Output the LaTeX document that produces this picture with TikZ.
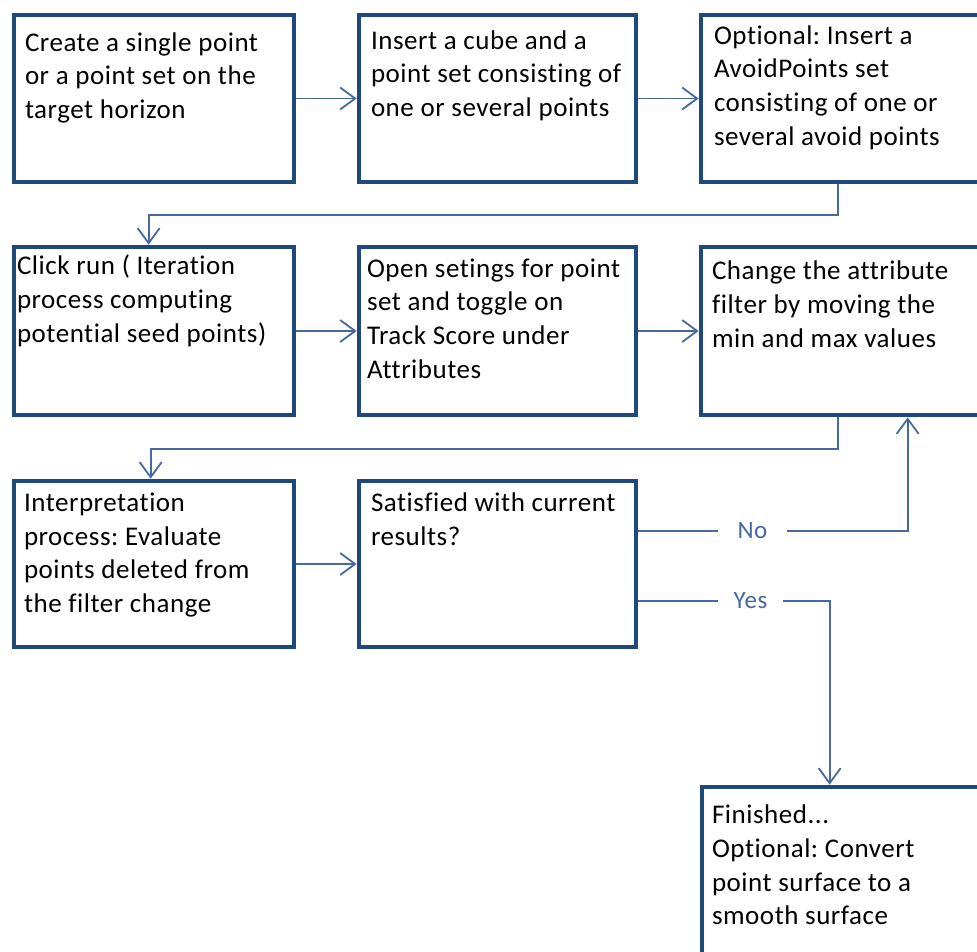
\documentclass[tikz,border=0pt]{standalone}
\usepackage{fontspec}
\setmainfont{Carlito}[LetterSpace=2.0, Ligatures=NoCommon]
\usetikzlibrary{arrows.meta}
\definecolor{boxline}{HTML}{1F487C}
\definecolor{flow}{HTML}{4669A0}
\tikzset{
  stepbox/.style={draw=boxline, line width=4.7pt, fill=white, rectangle, inner sep=0pt},
  txt/.style={anchor=north west, inner sep=0pt, outer sep=0pt, align=left, text=black,
    font=\fontsize{27}{33.7}\selectfont\frenchspacing, execute at begin node=\strut},
  conn/.style={draw=flow, line width=1.8pt,
    -{Straight Barb[length=15pt, width=22pt, line width=1.8pt]}},
  plain/.style={draw=flow, line width=1.8pt},
  answer/.style={inner sep=0pt, outer sep=0pt, text=flow,
    font=\fontsize{25}{30}\selectfont}
}
\begin{document}
\begin{tikzpicture}[x=1pt, y=-1pt]
  \useasboundingbox (0,0) rectangle (977,951);
  \fill[white] (0,0) rectangle (977,951);
  \clip (0,0) rectangle (977,951);

  % process boxes
  \node[stepbox, minimum width=280pt, minimum height=167pt] (b1) at (154,98.5) {};
  \node[stepbox, minimum width=277pt, minimum height=167pt] (b2) at (497.5,98.5) {};
  \node[stepbox, minimum width=299pt, minimum height=167pt] (b3) at (850.5,98.5) {};
  \node[stepbox, minimum width=280pt, minimum height=168pt] (b4) at (154,331) {};
  \node[stepbox, minimum width=277pt, minimum height=168pt] (b5) at (497.5,331) {};
  \node[stepbox, minimum width=299pt, minimum height=168pt] (b6) at (850.5,331) {};
  \node[stepbox, minimum width=280pt, minimum height=166pt] (b7) at (154,564) {};
  \node[stepbox, minimum width=277pt, minimum height=166pt] (b8) at (497.5,564) {};
  \node[stepbox, minimum width=298pt, minimum height=213pt] (b9) at (851,893.5) {};

  % box texts
  \node[txt] (t1) at (25,32.5) {Create a single point\\or a point set on the\\target horizon};
  \node[txt] (t2) at (371,30.5) {Insert a cube and a\\point set consisting of\\one or several points};
  \node[txt] (t3) at (714,25.5) {Optional: Insert a\\AvoidPoints set\\consisting of one or\\several avoid points};
  \node[txt] (t4) at (17,255) {Click run ( Iteration\\process computing\\potential seed points)};
  \node[txt] (t5) at (367,258.5) {Open setings for point\\set and toggle on\\Track Score under\\Attributes};
  \node[txt] (t6) at (712,261) {Change the attribute\\filter by moving the\\min and max values};
  \node[txt] (t7) at (24,493) {Interpretation\\process: Evaluate\\points deleted from\\the filter change};
  \node[txt] (t8) at (371,493) {Satisfied with current\\results?};
  \node[txt] (t9) at (712,805) {Finished...\\Optional: Convert\\point surface to a\\smooth surface};

  % decision labels
  \node[answer, minimum width=69pt] (no) at (752.5,531) {No};
  \node[answer, minimum width=65pt] (yes) at (750.5,601) {Yes};

  % flow connectors
  \draw[conn] (b1.east) -- (b2.west);
  \draw[conn] (b2.east) -- (b3.west);
  \draw[conn] ([xshift=139pt]b3.south west) -- ++(0,31) -| ([xshift=137pt]b4.north west);
  \draw[conn] (b4.east) -- (b5.west);
  \draw[conn] (b5.east) -- (b6.west);
  \draw[conn] ([xshift=139pt]b6.south west) -- ++(0,32) -| ([xshift=139pt]b7.north west);
  \draw[conn] (b7.east) -- (b8.west);
  \draw[plain] ([yshift=33pt]b8.east) -- (no.west);
  \draw[conn] (no.east) -| ([xshift=209pt]b6.south west);
  \draw[plain] ([yshift=-37pt]b8.east) -- (yes.west);
  \draw[conn] (yes.east) -| ([xshift=130pt]b9.north west);
\end{tikzpicture}
\end{document}
